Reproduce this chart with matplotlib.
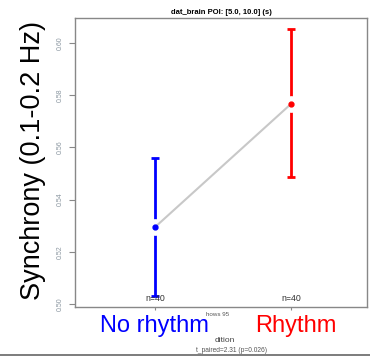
import matplotlib.pyplot as plt
from matplotlib.lines import Line2D

# data
conditions = ['No rhythm', 'Rhythm']
cond_colors = ['#0000ff', '#ff0000']
means = [0.5295, 0.5766]
lower = [0.5031, 0.5486]
upper = [0.5558, 0.6052]
n_labels = ['n=40', 'n=40']
yticks = [0.50, 0.52, 0.54, 0.56, 0.58, 0.60]
ytick_labels = ['0.50', '0.52', '0.54', '0.56', '0.58', '0.60']

plt.rcParams['font.family'] = ['Liberation Sans', 'DejaVu Sans']

fig = plt.figure(figsize=(3.7, 3.57), dpi=100)
ax = fig.add_axes([75 / 370, 1 - 307 / 357, 292 / 370, 289 / 357])

xs = [1, 2]

# error bars
for x, lo, hi, c in zip(xs, lower, upper, cond_colors):
    ax.errorbar(x, (lo + hi) / 2, yerr=[[(hi - lo) / 2], [(hi - lo) / 2]],
                fmt='none', ecolor=c, elinewidth=2.0, capsize=3.2, capthick=2.0, zorder=2)

# white gap around the means
ax.plot(xs, means, 'o', ms=11, mfc='white', mec='white', zorder=3, linestyle='none')
ax.plot(xs, means, '-', color='#c8c8c8', lw=1.5, zorder=4)
for x, m, c in zip(xs, means, cond_colors):
    ax.plot(x, m, 'o', ms=3.5, color=c, zorder=5)

for x, t in zip(xs, n_labels):
    ax.text(x, 0.5003, t, ha='center', va='bottom', fontsize=6.3, color='#333333')

ax.set_xlim(0.41, 2.56)
ax.set_ylim(0.4989, 0.6095)
ax.set_yticks(yticks)
ax.set_yticklabels(ytick_labels, rotation=90, va='center', fontsize=5, color='#8a96a0')
ax.set_xticks(xs)
ax.set_xticklabels([])
ax.tick_params(axis='y', length=4, width=0.8, color='#888888', pad=4)
ax.tick_params(axis='x', length=2, width=0.8, color='#888888')
for s in ax.spines.values():
    s.set_color('#888888')
    s.set_linewidth(1)

ax.set_title('dat_brain POI: [5.0, 10.0] (s)', fontsize=5.5, fontweight='bold', pad=3)

fig.text(33 / 370, 1 - 160 / 357, 'Synchrony (0.1-0.2 Hz)', rotation=90,
         ha='center', va='center', fontsize=19.5, color='black')

label_x = [154, 296]
for lx, t, c in zip(label_x, conditions, cond_colors):
    fig.text(lx / 370, 1 - 332 / 357, t, ha='center', va='baseline', fontsize=17, color=c)

fig.text(218 / 370, 1 - 314 / 357, 'hows 95', ha='center', va='center', fontsize=4.5, color='#555555')
fig.text(225 / 370, 1 - 340 / 357, 'dition', ha='center', va='center', fontsize=6, color='#444444')
fig.text(232 / 370, 1 - 351 / 357, 't_paired=2.31 (p=0.026)', ha='center', va='center',
         fontsize=4.8, color='#555555')

fig.add_artist(Line2D([0, 1], [1 - 355 / 357, 1 - 355 / 357], color='#666666', lw=1.2))

fig.savefig('out.png', dpi=100)
